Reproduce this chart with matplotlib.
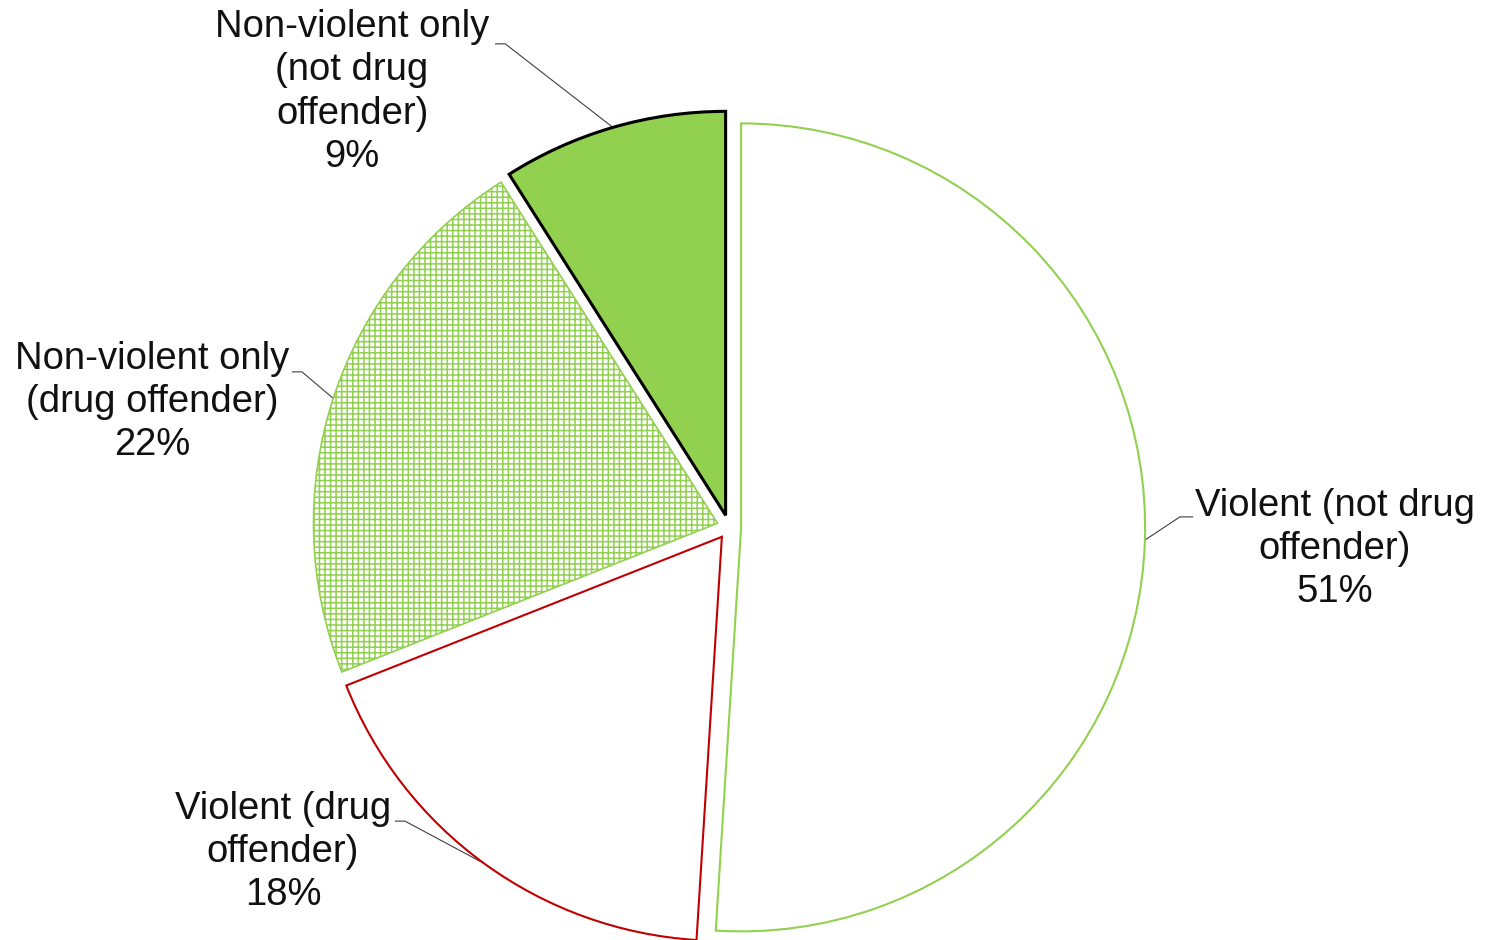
import numpy as np
import matplotlib
matplotlib.use("Agg")
import matplotlib.pyplot as plt

plt.rcParams['font.family'] = ['Liberation Sans', 'DejaVu Sans']
plt.rcParams['hatch.linewidth'] = 1.1

# offender groups, clockwise from 12 o'clock
labels = ["Violent (not drug\noffender)", "Violent (drug\noffender)",
          "Non-violent only\n(drug offender)", "Non-violent only\n(not drug\noffender)"]
shares = [51, 18, 22, 9]

face = ["white", "white", "white", "#92D050"]
edge = ["#92D050", "#C00000", "#92D050", "black"]
lw = [1.5, 1.5, 1.2, 2.2]
hatch = [None, None, "+++", None]

# label centre and the short horizontal bit of each leader line (data units)
text_pos = [(1.500, -0.054), (-1.104, -0.804), (-1.428, 0.309), (-0.933, 1.077)]
elbow = [((1.149, 0.025), (1.116, 0.025)),
         ((-0.827, -0.728), (-0.802, -0.728)),
         ((-1.082, 0.384), (-1.057, 0.384)),
         ((-0.579, 1.196), (-0.554, 1.196))]

fig = plt.figure(figsize=(14.86, 9.40), dpi=100)
ax = fig.add_axes([0, 0, 1, 1])

wedges, _ = ax.pie(shares, startangle=90, counterclock=False,
                   explode=[0.03] * len(shares), radius=1.0)

for i, w in enumerate(wedges):
    w.set_facecolor(face[i])
    w.set_edgecolor(edge[i])
    w.set_linewidth(lw[i])
    if hatch[i]:
        w.set_hatch(hatch[i])

    # leader from the middle of the arc to the label
    mid = np.deg2rad((w.theta1 + w.theta2) / 2)
    ax0 = w.center[0] + w.r * np.cos(mid)
    ay0 = w.center[1] + w.r * np.sin(mid)
    (ex1, ey1), (ex2, ey2) = elbow[i]
    ax.plot([ex1, ex2, ax0], [ey1, ey2, ay0], color="#404040", lw=0.8,
            solid_capstyle="butt", zorder=0)

    pct = f"{shares[i]}%"
    ax.text(text_pos[i][0], text_pos[i][1], labels[i] + "\n" + pct,
            ha="center", va="center", multialignment="center",
            fontsize=27.5, color="#111111", linespacing=1.26)

ax.set_xlim(-729 / 404, (1486 - 729) / 404)
ax.set_ylim((527 - 940) / 404, 527 / 404)
ax.set_aspect("auto")
ax.axis("off")

fig.savefig("out.png", dpi=100)
